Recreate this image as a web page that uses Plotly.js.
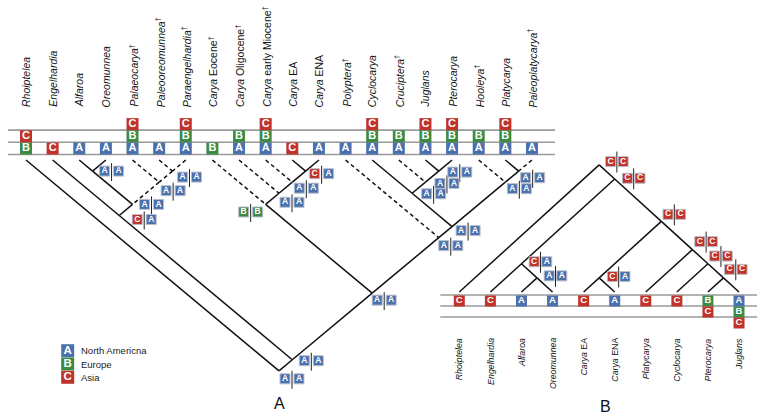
<!DOCTYPE html>
<html><head><meta charset="utf-8">
<script src="https://cdn.plot.ly/plotly-3.0.1.min.js"></script>
<style>html,body{margin:0;padding:0;background:#fff}#chart{width:766px;height:418px}</style>
</head><body><div id="chart"></div>
<script>
// ---------------- DATA ----------------
// Tree A (with fossils)
const tipsA = ["Rhoiptelea","Engelhardia","Alfaroa","Oreomunnea","Palaeocarya","Paleooreomunnea","Paraengelhardia",
  "Carya Eocene","Carya Oligocene","Carya early Miocene","Carya EA","Carya ENA","Polyptera","Cyclocarya",
  "Cruciptera","Juglans","Pterocarya","Hooleya","Platycarya","Paleoplatycarya"];
const fossilA = [0,0,0,0,1,1,1,1,1,1,0,0,1,0,1,0,0,1,0,1];
const tipStatesA = ["BC","C","A","A","ABC","A","ABC","B","AB","ABC","C","A","A","ABC","AB","ABC","ABC","AB","ABC","A"];
const treeA = [0,[[1,[[2,3],[4,[5,6]]]],[[7,[8,[9,[10,11]]]],[12,[[13,[14,[15,16]]],[17,[18,19]]]]]]];
// ancestral states at nodes: [leftmost tip, rightmost tip, states]
const nodeStatesA = [[2,3,"AA"],[5,6,"AA"],[4,6,"AA"],[2,6,"AA"],[1,6,"CA"],[7,11,"BB"],[10,11,"CA"],[9,11,"AA"],
  [8,11,"AA"],[15,16,"AA"],[14,16,"AA"],[13,16,"AA"],[18,19,"AA"],[17,19,"AA"],[13,19,"AA"],[12,19,"AA"],
  [7,19,"AA"],[1,19,"AA"],[0,19,"AA"]];

// Tree B (extant only)
const tipsB = ["Rhoiptelea","Engelhardia","Alfaroa","Oreomunnea","Carya EA","Carya ENA","Platycarya","Cyclocarya","Pterocarya","Juglans"];
const tipStatesB = ["C","C","A","A","C","A","C","C","BC","ABC"];
const treeB = [0,[[1,[2,3]],[[4,5],[6,[7,[8,9]]]]]];
const nodeStatesB = [[0,9,"CC"],[1,9,"CC"],[4,9,"CC"],[6,9,"CC"],[7,9,"CC"],[8,9,"CC"],[1,3,"CA"],[2,3,"AA"],[4,5,"CA"]];

// Legend
const areaCodes = ["A","B","C"];
const areaNames = ["North Americna","Europe","Asia"];
const panelLabels = ["A","B"];

// ---------------- LAYOUT / STYLE ----------------
const areaColors = {A:"#4a70ad", B:"#3d8b43", C:"#c1322b"};
const FONT = "Liberation Sans, Arial, Helvetica, sans-serif";
const offsetsA = [[19,0],[17,6],[14,8.5],[19,0],[25,4],[-15,7.6],[16,2.6],[14,6],[13,9],[21,1],[21.5,1.2],[21.5,0.5],
  [14,6.6],[14,6.5],[16,4],[12,8],[12,7],[19,1],[13,8]];
const offsetsB = [[17.7,-3.3],[19,-0.7],[13,-7],[13.7,-8],[13,-7.7],[12.3,-8.5],[19,-2],[18.5,-2],[19.5,-1.3]];

const cfgA = {tipX:i=>26+i*26.63, baseY:160, slope:1.2, dir:1, rowY0:148.5, rowStep:-12.2, tipBox:12, tipFont:11,
  nodeBox:10, nodeFont:8.5, half:7, divTop:-8, divBot:10, lineL:-18, lineR:23, labelY:109, labelFont:10.5};
const cfgB = {tipX:i=>459.3+i*31.08, baseY:292, slope:1.1, dir:-1, rowY0:301, rowStep:11, tipBox:11, tipFont:9.5,
  nodeBox:10, nodeFont:8.5, half:6.3, divTop:-10, divBot:11, lineL:-19, lineR:18, labelY:336, labelFont:8.8};

const solid = {x:[],y:[]}, dashed = {x:[],y:[]}, divs = {x:[],y:[]};
const boxes = {A:[],B:[],C:[]};
const shapes = [], annotations = [];

function buildTree(tree, fossil, cfg) {
  const map = {};
  function walk(n) {
    let node;
    if (typeof n === "number") {
      node = {l:n, r:n, x:cfg.tipX(n), y:cfg.baseY, fossil: fossil ? !!fossil[n] : false, kids:[]};
    } else {
      const a = walk(n[0]), b = walk(n[1]);
      const xl = cfg.tipX(a.l), xr = cfg.tipX(b.r);
      node = {l:a.l, r:b.r, x:(xl+xr)/2, y:cfg.baseY + cfg.dir*(xr-xl)/2/cfg.slope, fossil:a.fossil && b.fossil, kids:[a,b]};
      for (const c of node.kids) {
        const tgt = c.fossil ? dashed : solid;
        tgt.x.push(c.x, node.x, null); tgt.y.push(c.y, node.y, null);
      }
    }
    map[node.l+"-"+node.r] = node;
    return node;
  }
  walk(tree);
  return map;
}

function addTips(tips, states, fossil, cfg, top) {
  tips.forEach((name, i) => {
    const x = cfg.tipX(i);
    states[i].split("").forEach((s, k) => {
      boxes[s].push({x:x, y:cfg.rowY0 + k*cfg.rowStep, size:cfg.tipBox, font:cfg.tipFont, node:false});
    });
    let html;
    if (name.startsWith("Carya ")) html = "<i>Carya</i> " + name.slice(6);
    else html = "<i>" + name + "</i>";
    if (fossil && fossil[i]) html += "<sup>†</sup>";
    annotations.push({x:x, y:cfg.labelY, xref:"x", yref:"y", text:html, showarrow:false, textangle:-90,
      xanchor:"center", yanchor: top ? "bottom" : "top", font:{family:FONT, size:cfg.labelFont, color:"#111"}});
  });
  const x0 = cfg.tipX(0) + cfg.lineL, x1 = cfg.tipX(tips.length-1) + cfg.lineR;
  for (let k = 0; k < 3; k++) {
    const yy = cfg.rowY0 - Math.sign(cfg.rowStep)*6 + k*cfg.rowStep;
    shapes.push({type:"line", xref:"x", yref:"y", x0:x0, x1:x1, y0:yy, y1:yy, line:{color:"#9a9a9a", width:1.6}, layer:"below"});
  }
}

function addNodeStates(map, list, offs, cfg) {
  list.forEach((ns, j) => {
    const node = map[ns[0]+"-"+ns[1]];
    const cx = node.x + offs[j][0], cy = node.y + offs[j][1];
    const st = ns[2].split("");
    boxes[st[0]].push({x:cx-cfg.half, y:cy, size:cfg.nodeBox, font:cfg.nodeFont, node:true});
    boxes[st[1]].push({x:cx+cfg.half, y:cy, size:cfg.nodeBox, font:cfg.nodeFont, node:true});
    divs.x.push(cx, cx, null); divs.y.push(cy+cfg.divTop, cy+cfg.divBot, null);
  });
}

const mapA = buildTree(treeA, fossilA, cfgA);
const mapB = buildTree(treeB, null, cfgB);
addTips(tipsA, tipStatesA, fossilA, cfgA, true);
addTips(tipsB, tipStatesB, null, cfgB, false);
addNodeStates(mapA, nodeStatesA, offsetsA, cfgA);
addNodeStates(mapB, nodeStatesB, offsetsB, cfgB);

// legend boxes
areaCodes.forEach((c, i) => {
  const y = 350.7 + i*13.3;
  boxes[c].push({x:67.7, y:y, size:13, font:11.5, node:false});
  annotations.push({x:79, y:y, xref:"x", yref:"y", text:areaNames[i], showarrow:false, xanchor:"left", yanchor:"middle",
    font:{family:FONT, size:9.5, color:"#222"}});
});
annotations.push({x:279.3, y:403, xref:"x", yref:"y", text:panelLabels[0], showarrow:false, xanchor:"center", yanchor:"middle", font:{family:FONT, size:16, color:"#111"}});
annotations.push({x:605, y:406, xref:"x", yref:"y", text:panelLabels[1], showarrow:false, xanchor:"center", yanchor:"middle", font:{family:FONT, size:16, color:"#111"}});

const traces = [
  {x:solid.x, y:solid.y, mode:"lines", line:{color:"#111", width:1.5}, hoverinfo:"skip"},
  {x:dashed.x, y:dashed.y, mode:"lines", line:{color:"#111", width:1.5, dash:"4px,3px"}, hoverinfo:"skip"},
  {x:divs.x, y:divs.y, mode:"lines", line:{color:"#222", width:1}, hoverinfo:"skip"}
];
for (const c of areaCodes) {
  const b = boxes[c];
  traces.push({
    x:b.map(d=>d.x), y:b.map(d=>d.y), mode:"markers+text", text:b.map(()=>"<b>"+c+"</b>"),
    textposition:"middle center",
    textfont:{family:FONT, color:"#ffffff", size:b.map(d=>d.font)},
    marker:{symbol:"square", opacity:1, size:b.map(d=>d.size), color:areaColors[c],
      line:{color:b.map(d=>d.node ? "#b9c0cc" : areaColors[c]), width:b.map(d=>d.node ? 1 : 0)}},
    hoverinfo:"skip", cliponaxis:false
  });
}

const layout = {
  width:766, height:418, margin:{l:0,r:0,t:0,b:0}, showlegend:false,
  paper_bgcolor:"#fff", plot_bgcolor:"#fff",
  xaxis:{range:[0,766], visible:false, fixedrange:true},
  yaxis:{range:[418,0], visible:false, fixedrange:true},
  shapes:shapes, annotations:annotations
};
Plotly.newPlot("chart", traces, layout, {staticPlot:true, displayModeBar:false});
</script></body></html>
